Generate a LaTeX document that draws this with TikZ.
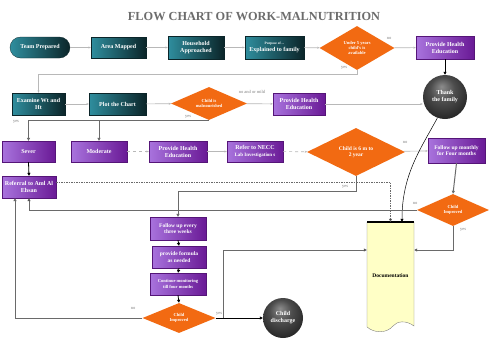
\documentclass[tikz,border=0pt]{standalone}
\usepackage{fontspec}
\setmainfont{Liberation Serif}
\usetikzlibrary{shapes.geometric,arrows.meta,calc}
\definecolor{tealA}{HTML}{2F8E9E}
\definecolor{tealB}{HTML}{0B2529}
\definecolor{purA}{HTML}{A873DD}
\definecolor{purB}{HTML}{6A1A96}
\definecolor{orng}{HTML}{F26A12}
\definecolor{docfill}{HTML}{FFFFC6}
\definecolor{lgray}{HTML}{B8B8B8}
\definecolor{dgray}{HTML}{6A6A6A}
\pgfdeclareradialshading{sphshade}{\pgfpoint{-4bp}{12bp}}{color(0bp)=(black!45); color(14bp)=(black!70); color(30bp)=(black!85); color(50bp)=(black!92)}
\begin{document}
\begin{tikzpicture}[x=1pt,y=-1pt,
  base/.style={inner sep=0.5pt, align=center, text=white, font=\bfseries\fontsize{6}{7}\selectfont},
  tealbox/.style={base, rectangle, left color=tealA, right color=tealB, draw=tealB, line width=0.3pt},
  purbox/.style={base, rectangle, left color=purA, right color=purB, draw=purB!80!black, line width=0.3pt},
  dia/.style={base, diamond, aspect=1.7, fill=orng, font=\bfseries\fontsize{4.5}{5.2}\selectfont},
  ball/.style={base, circle, shading=sphshade},
  lbl/.style={text=gray, font=\fontsize{4.5}{5}\selectfont, inner sep=0pt},
  gl/.style={draw=lgray, line width=0.6pt, -{Stealth[length=2.5pt,width=2pt]}},
  gdash/.style={draw=lgray, line width=0.6pt, dashed, -{Stealth[length=2.5pt,width=2pt]}},
  dk/.style={draw=dgray, line width=0.8pt, -{Triangle[length=3pt,width=3pt]}},
  bk/.style={draw=black, line width=0.8pt, -{Triangle[length=3pt,width=3pt]}}
]
\useasboundingbox (0,0) rectangle (489,338);
\fill[white] (0,0) rectangle (489,338);

\node[text=gray!85!black, font=\bfseries\fontsize{12.3}{13}\selectfont] (title) at (254,17) {FLOW CHART OF WORK-MALNUTRITION};

% row 1
\node[tealbox, rounded corners=10.5pt, minimum width=60pt, minimum height=21pt] (t1) at (40,47.5) {Team Prepared};
\node[tealbox, minimum width=55pt, minimum height=21pt] (t2) at (118.5,47.5) {Area Mapped};
\node[tealbox, minimum width=56pt, minimum height=23pt] (t3) at (196,47.5) {Household\\Approached};
\node[tealbox, minimum width=59pt, minimum height=23pt] (t4) at (274.5,47.5) {{\fontsize{3.5}{4}\selectfont Purpose of ...}\\Explained to family};
\node[dia, minimum width=75pt, minimum height=44pt] (d1) at (357,48) {Under 5 years\\child's is\\available};
\node[purbox, minimum width=58pt, minimum height=23pt] (p1) at (445,47.5) {Provide Health\\Education};
\node[ball, minimum size=44pt] (c1) at (445,97) {Thank\\the family};

% row 2
\node[tealbox, minimum width=53pt, minimum height=22pt] (t5) at (38.5,104) {Examine Wt and\\Ht};
\node[tealbox, minimum width=57pt, minimum height=22pt] (t6) at (117.5,104) {Plot the Chart};
\node[dia, minimum width=76pt, minimum height=33pt] (d2) at (209,103.5) {Child is\\malnourished};
\node[purbox, minimum width=52pt, minimum height=22pt] (p2) at (299,104) {Provide Health\\Education};

% row 3
\node[purbox, minimum width=53pt, minimum height=21pt] (p3) at (28.5,151.5) {Sever};
\node[purbox, minimum width=56pt, minimum height=21pt] (p4) at (99,151.5) {Moderate};
\node[purbox, minimum width=58pt, minimum height=21pt] (p5) at (178,151.5) {Provide Health\\Education};
\node[purbox, minimum width=56pt, minimum height=21pt] (p6) at (255,151.5) {Refer to NECC\\{\fontsize{5}{6}\selectfont Lab Investigation s}};
\node[dia, minimum width=98pt, minimum height=48pt, font=\bfseries\fontsize{5.5}{6.5}\selectfont] (d3) at (356,152) {Child is 6 m to\\2 year};
\node[purbox, minimum width=57pt, minimum height=25pt, font=\bfseries\fontsize{5.5}{6.5}\selectfont] (p7) at (456.5,150.5) {Follow up monthly\\for Four months};

\node[purbox, minimum width=54pt, minimum height=22pt] (p8) at (29,187) {Referral to Aml Al\\Ehsan};
\node[dia, minimum width=72pt, minimum height=32pt] (d4) at (453,210) {Child\\Improved};

% documentation
\fill[docfill] (367,222) -- (414,222) -- (414,326) .. controls (406,320) and (397,321) .. (393,326) .. controls (386,334) and (374,333) .. (367,327) -- cycle;
\draw[gray, line width=0.4pt] (414,222) -- (414,326) .. controls (406,320) and (397,321) .. (393,326) .. controls (386,334) and (374,333) .. (367,327) -- (367,222);
\draw[black, line width=1.2pt] (367,222) -- (414,222);
\node[inner sep=0pt, minimum width=47pt, minimum height=108pt, font=\bfseries\fontsize{5.5}{6.5}\selectfont] (doc) at (390.5,276) {Documentation};

% bottom column
\node[purbox, minimum width=56pt, minimum height=23pt, font=\bfseries\fontsize{5.5}{6.5}\selectfont] (p9) at (178,228.5) {Follow up every\\three weeks};
\node[purbox, minimum width=54pt, minimum height=22pt, font=\bfseries\fontsize{5.5}{6.5}\selectfont] (p10) at (179,257) {provide formula\\as needed};
\node[purbox, minimum width=56pt, minimum height=22pt, font=\bfseries\fontsize{4.5}{5.5}\selectfont] (p11) at (178,284) {Continue monitoring\\till four months};
\node[dia, minimum width=73pt, minimum height=30pt] (d5) at (179,318) {Child\\Improved};
\node[ball, minimum size=40pt] (c2) at (283,318) {Child\\discharge};

% connectors row 1
\draw[gl] (t1) -- (t2);
\draw[gl] (t2) -- (t3);
\draw[gl] (t3) -- (t4);
\draw[gl] (t4) -- (d1);
\draw[gl] (d1) -- (p1);
\node[lbl] (l1) at (389,38) {no};
\draw[bk] (p1.south) -- (c1.north);
\draw[gl] (d1.south) -- ++(0,4) -| (t5.north);
\node[lbl] (l2) at (344,68) {yes};

% row 2
\draw[gl] (t5) -- (t6);
\draw[gl] (t6) -- (d2);
\draw[gl] (d2) -- (p2);
\node[lbl] (l3) at (252,92) {no and or mild};
\draw[gl] (p2.east) -- (p2.east -| c1.west);
\draw[dk] (d2.south) -- (d2.south -| p3.north) -- (p3.north);
\draw[dk] (d2.south -| p4.north) -- (p4.north);
\node[lbl] (l4) at (16,122) {yes};
\node[lbl] (l5) at (188,117) {yes};

% row 3
\draw[gdash] (p4) -- (p5);
\draw[gl] (p5) -- (p6);
\draw[gdash] (p6) -- (d3);
\draw[gl] (d3) -- (p7);
\node[lbl] (l6) at (405,142) {no};
\draw[bk] (p3.south) -- (p8.north);
\draw[draw=dgray, line width=1pt, -{Triangle[length=3pt,width=3pt]}] (p7.south) -- (d4.north);

% to documentation
\draw[draw=dgray, line width=0.6pt, dash pattern=on 1.5pt off 1pt, -{Triangle[length=3pt,width=3pt,fill=black]}] ($(p8.north east)!0.27!(p8.south east)$) -| (doc.north);
\draw[bk, line width=0.5pt] (c1.-110) .. controls (420,150) and (402,175) .. ($(doc.north)+(11.5,0)$);
\draw[dk] (d3.south) -- ++(0,15) -| (p9.north);
\node[lbl] (l7) at (345,187) {yes};
\draw[draw=dgray, line width=0.6pt, -{Triangle[length=3pt,width=3pt,fill=black]}] (d4.west) -| (p8.south);
\node[lbl] (l8) at (415,203) {no};
\draw[draw=dgray, line width=0.7pt, -{Triangle[length=3pt,width=3pt,fill=black]}] (d4.south) |- ($(doc.east)+(0,-26)$);
\node[lbl] (l9) at (463,230) {yes};

% bottom column
\draw[bk] (p9.south) -- (p10.north);
\draw[bk] (p10.south) -- (p11.north);
\draw[bk] (p11.south) -- (d5.north);
\draw[dk] (d5.west) -| ([xshift=-14pt]p8.south);
\node[lbl] (l10) at (133,308) {no};
\draw[bk, line width=0.6pt] (d5.east) -- (c2.west);
\draw[draw=dgray, line width=0.6pt, -{Triangle[length=3pt,width=3pt,fill=black]}] ($(d5.east)+(8,0)$) |- ($(doc.west)+(0,-26)$);
\node[lbl] (l11) at (219,314) {yes};
\end{tikzpicture}
\end{document}
